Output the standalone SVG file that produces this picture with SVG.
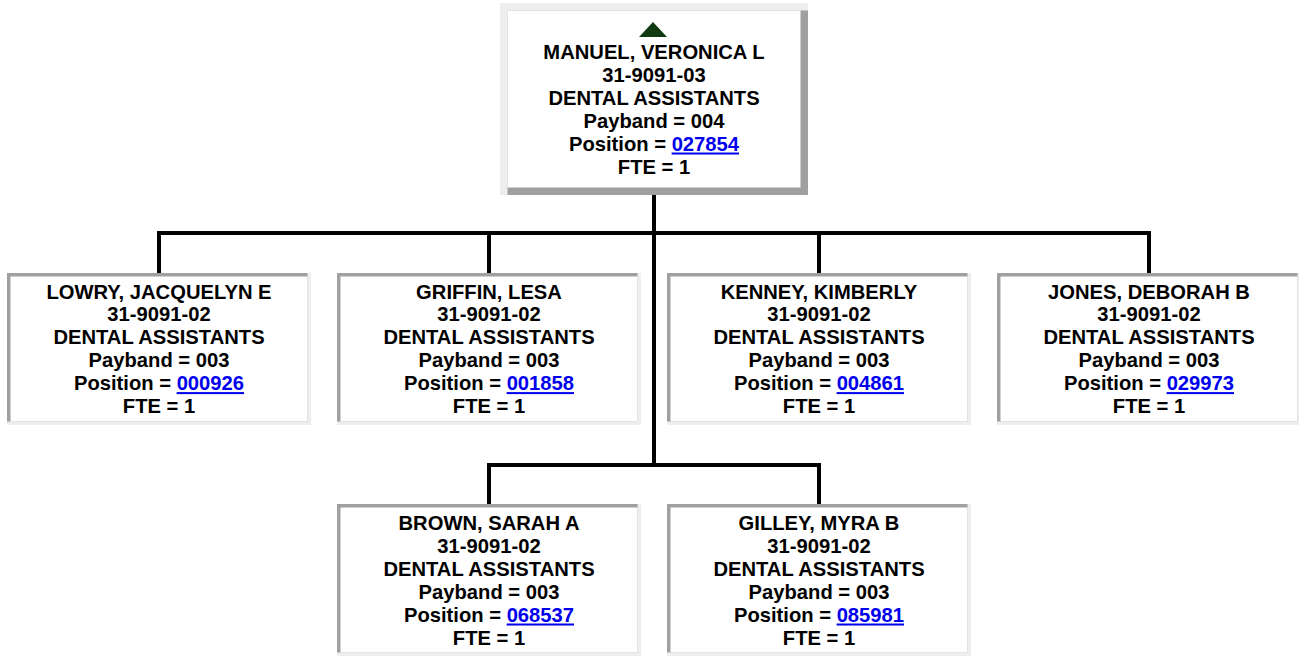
<svg xmlns="http://www.w3.org/2000/svg" width="1299" height="656" viewBox="0 0 1299 656">
<style>
.t{font-family:"Liberation Sans",Arial,sans-serif;font-weight:bold;font-size:20.2px;fill:#000;text-anchor:middle}
.lk{fill:#0000ee;text-decoration:underline}
.lt{fill:#eeeeee}
.dk{fill:#a0a0a0}
.bg{fill:#ffffff}
.cn{stroke:#000;stroke-width:4;fill:none;stroke-linecap:square}
</style>
<rect width="1299" height="656" fill="#fff"/>
<g id="connectors">
<path class="cn" d="M654 195V465M159 233H1149M159 233V273M489 233V273M819 233V273M1149 233V273M489 465H819M489 465V504M819 465V504"/>
</g>
<g id="n0">
<rect class="lt" x="500" y="3" width="308" height="192"/>
<rect class="dk" x="507.5" y="10.5" width="300.5" height="184.5"/>
<rect class="bg" x="507.5" y="10.5" width="293" height="177"/>
<polygon points="639,37 667,37 653,22" fill="#123a12"/>
<text class="t" x="654" y="58.5">MANUEL, VERONICA L</text>
<text class="t" x="654" y="81.5">31-9091-03</text>
<text class="t" x="654" y="104.5">DENTAL ASSISTANTS</text>
<text class="t" x="654" y="127.5">Payband = 004</text>
<text class="t" x="654" y="150.5">Position = <tspan class="lk">027854</tspan></text>
<text class="t" x="654" y="173.5">FTE = 1</text>
</g>
<g id="n1">
<rect class="lt" x="7" y="273" width="304" height="152"/>
<rect class="dk" x="7" y="273" width="300.5" height="148.5"/>
<rect class="bg" x="10.5" y="276.5" width="297" height="145"/>
<text class="t" x="159" y="298.5">LOWRY, JACQUELYN E</text>
<text class="t" x="159" y="321.4">31-9091-02</text>
<text class="t" x="159" y="344.3">DENTAL ASSISTANTS</text>
<text class="t" x="159" y="367.2">Payband = 003</text>
<text class="t" x="159" y="390.1">Position = <tspan class="lk">000926</tspan></text>
<text class="t" x="159" y="413">FTE = 1</text>
</g>
<g id="n2">
<rect class="lt" x="337" y="273" width="304" height="152"/>
<rect class="dk" x="337" y="273" width="300.5" height="148.5"/>
<rect class="bg" x="340.5" y="276.5" width="297" height="145"/>
<text class="t" x="489" y="298.5">GRIFFIN, LESA</text>
<text class="t" x="489" y="321.4">31-9091-02</text>
<text class="t" x="489" y="344.3">DENTAL ASSISTANTS</text>
<text class="t" x="489" y="367.2">Payband = 003</text>
<text class="t" x="489" y="390.1">Position = <tspan class="lk">001858</tspan></text>
<text class="t" x="489" y="413">FTE = 1</text>
</g>
<g id="n3">
<rect class="lt" x="667" y="273" width="304" height="152"/>
<rect class="dk" x="667" y="273" width="300.5" height="148.5"/>
<rect class="bg" x="670.5" y="276.5" width="297" height="145"/>
<text class="t" x="819" y="298.5">KENNEY, KIMBERLY</text>
<text class="t" x="819" y="321.4">31-9091-02</text>
<text class="t" x="819" y="344.3">DENTAL ASSISTANTS</text>
<text class="t" x="819" y="367.2">Payband = 003</text>
<text class="t" x="819" y="390.1">Position = <tspan class="lk">004861</tspan></text>
<text class="t" x="819" y="413">FTE = 1</text>
</g>
<g id="n4">
<rect class="lt" x="997" y="273" width="304" height="152"/>
<rect class="dk" x="997" y="273" width="300.5" height="148.5"/>
<rect class="bg" x="1000.5" y="276.5" width="297" height="145"/>
<text class="t" x="1149" y="298.5">JONES, DEBORAH B</text>
<text class="t" x="1149" y="321.4">31-9091-02</text>
<text class="t" x="1149" y="344.3">DENTAL ASSISTANTS</text>
<text class="t" x="1149" y="367.2">Payband = 003</text>
<text class="t" x="1149" y="390.1">Position = <tspan class="lk">029973</tspan></text>
<text class="t" x="1149" y="413">FTE = 1</text>
</g>
<g id="n5">
<rect class="lt" x="337" y="504" width="304" height="152"/>
<rect class="dk" x="337" y="504" width="300.5" height="148.5"/>
<rect class="bg" x="340.5" y="507.5" width="297" height="145"/>
<text class="t" x="489" y="529.5">BROWN, SARAH A</text>
<text class="t" x="489" y="552.5">31-9091-02</text>
<text class="t" x="489" y="575.5">DENTAL ASSISTANTS</text>
<text class="t" x="489" y="598.5">Payband = 003</text>
<text class="t" x="489" y="621.5">Position = <tspan class="lk">068537</tspan></text>
<text class="t" x="489" y="644.5">FTE = 1</text>
</g>
<g id="n6">
<rect class="lt" x="667" y="504" width="304" height="152"/>
<rect class="dk" x="667" y="504" width="300.5" height="148.5"/>
<rect class="bg" x="670.5" y="507.5" width="297" height="145"/>
<text class="t" x="819" y="529.5">GILLEY, MYRA B</text>
<text class="t" x="819" y="552.5">31-9091-02</text>
<text class="t" x="819" y="575.5">DENTAL ASSISTANTS</text>
<text class="t" x="819" y="598.5">Payband = 003</text>
<text class="t" x="819" y="621.5">Position = <tspan class="lk">085981</tspan></text>
<text class="t" x="819" y="644.5">FTE = 1</text>
</g>
</svg>
